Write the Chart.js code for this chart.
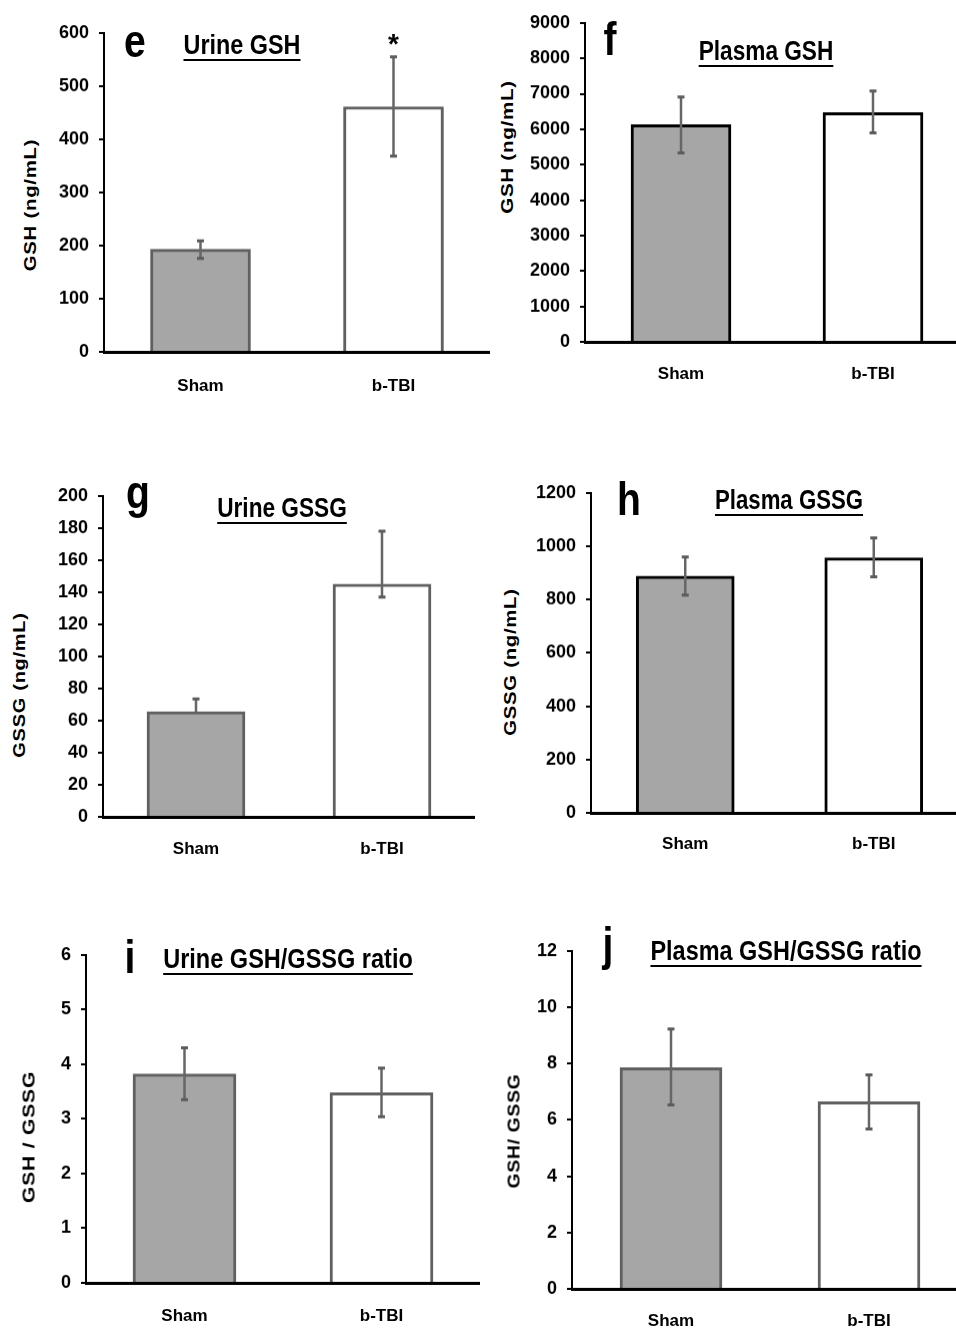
<!DOCTYPE html>
<html>
<head>
<meta charset="utf-8">
<script src="https://cdn.jsdelivr.net/npm/chart.js"></script>
<style>
body {
  margin: 0;
  width: 956px;
  height: 1334px;
  overflow: hidden;
  position: relative;
  background: #fff;
  font-family: 'Liberation Sans', Arial, sans-serif;
}
canvas { position: absolute; }
.txt {
  position: absolute;
  font-weight: bold;
  white-space: nowrap;
  line-height: 1;
  color: #000;
  transform-origin: center center;
}
.title {
  text-decoration: underline;
  text-decoration-thickness: 2px;
  text-underline-offset: 5px;
}
</style>
</head>
<body>
<script>
// groups on the x axis
const groups = ['Sham', 'b-TBI'];

// e: urine GSH (ng/mL)
const urineGsh = [193, 461];
const urineGshUp = [16, 94];
const urineGshDown = [17, 93];
const urineGshStar = [false, true];

// f: plasma GSH (ng/mL)
const plasmaGsh = [6130, 6470];
const plasmaGshUp = [780, 610];
const plasmaGshDown = [800, 570];

// g: urine GSSG (ng/mL)
const urineGssg = [65.5, 145];
const urineGssgUp = [8, 33];
const urineGssgDown = [0, 8];

// h: plasma GSSG (ng/mL)
const plasmaGssg = [888, 956];
const plasmaGssgUp = [72, 75];
const plasmaGssgDown = [71, 71];

// i: urine GSH/GSSG ratio
const urineRatio = [3.82, 3.48];
const urineRatioUp = [0.48, 0.45];
const urineRatioDown = [0.47, 0.44];

// j: plasma GSH/GSSG ratio
const plasmaRatio = [7.85, 6.64];
const plasmaRatioUp = [1.38, 0.96];
const plasmaRatioDown = [1.32, 0.96];

const FONT = "'Liberation Sans', Arial, sans-serif";
const YW = 62, PT = 12, XH = 50;

const panels = [
  { letter: 'e', title: 'Urine GSH', yTitle: 'GSH (ng/mL)', values: urineGsh, up: urineGshUp, down: urineGshDown, star: urineGshStar,
    max: 600, step: 100, border: '#606060', l: 104, t: 33, b: 352, r: 490, thick: 100, xPad: 24,
    letterPos: [135, 57], titlePos: [241.5, 55, 117], yTitlePos: [30, 205, 132] },
  { letter: 'f', title: 'Plasma GSH', yTitle: 'GSH (ng/mL)', values: plasmaGsh, up: plasmaGshUp, down: plasmaGshDown,
    max: 9000, step: 1000, border: '#000000', l: 585, t: 23, b: 342, r: 969, thick: 100, xPad: 22,
    letterPos: [610, 55], titlePos: [766, 61, 135], yTitlePos: [507, 147, 133] },
  { letter: 'g', title: 'Urine GSSG', yTitle: 'GSSG (ng/mL)', values: urineGssg, up: urineGssgUp, down: urineGssgDown,
    max: 200, step: 20, border: '#606060', l: 103, t: 496, b: 817, r: 475, thick: 98, xPad: 22,
    letterPos: [138, 508], titlePos: [282, 518, 130], yTitlePos: [19, 685, 145] },
  { letter: 'h', title: 'Plasma GSSG', yTitle: 'GSSG (ng/mL)', values: plasmaGssg, up: plasmaGssgUp, down: plasmaGssgDown,
    max: 1200, step: 200, border: '#000000', l: 591, t: 493, b: 813, r: 968, thick: 98, xPad: 21,
    letterPos: [629, 515], titlePos: [789, 510, 148], yTitlePos: [510, 662, 147] },
  { letter: 'i', title: 'Urine GSH/GSSG ratio', yTitle: 'GSH / GSSG', values: urineRatio, up: urineRatioUp, down: urineRatioDown,
    max: 6, step: 1, border: '#606060', l: 86, t: 955, b: 1283, r: 480, thick: 103, xPad: 23,
    letterPos: [130, 973], titlePos: [288, 969, 250], yTitlePos: [29, 1137, 132] },
  { letter: 'j', title: 'Plasma GSH/GSSG ratio', yTitle: 'GSH/ GSSG', values: plasmaRatio, up: plasmaRatioUp, down: plasmaRatioDown,
    max: 12, step: 2, border: '#606060', l: 572, t: 951, b: 1289, r: 968, thick: 102, xPad: 22,
    letterPos: [608, 960], titlePos: [786, 961, 271], yTitlePos: [514, 1131, 115] }
];

const errorBars = {
  id: 'errorBars',
  afterDatasetsDraw(chart, args, opts) {
    const ctx = chart.ctx;
    const yScale = chart.scales.y;
    const data = chart.data.datasets[0].data;
    ctx.save();
    ctx.fillStyle = '#000';
    chart.getDatasetMeta(0).data.forEach((bar, i) => {
      const top = yScale.getPixelForValue(data[i] + opts.up[i]);
      const bot = yScale.getPixelForValue(data[i] - opts.down[i]);
      ctx.strokeStyle = '#666666';
      ctx.lineWidth = 2.5;
      ctx.beginPath();
      ctx.moveTo(bar.x, top);
      ctx.lineTo(bar.x, bot);
      ctx.stroke();
      ctx.lineWidth = 3;
      ctx.strokeStyle = '#5c5c5c';
      ctx.beginPath();
      if (opts.up[i] > 0) { ctx.moveTo(bar.x - 3.5, top); ctx.lineTo(bar.x + 3.5, top); }
      if (opts.down[i] > 0) { ctx.moveTo(bar.x - 3.5, bot); ctx.lineTo(bar.x + 3.5, bot); }
      ctx.stroke();
      if (opts.star && opts.star[i]) {
        ctx.font = 'bold 28px ' + FONT;
        ctx.textAlign = 'center';
        ctx.textBaseline = 'alphabetic';
        ctx.fillText('*', bar.x, top - 4);
      }
    });
    ctx.restore();
  }
};

function chartConfig(p) {
  return {
    type: 'bar',
    data: {
      labels: groups,
      datasets: [{
        data: p.values,
        backgroundColor: ['#a6a6a6', '#ffffff'],
        borderColor: p.border,
        borderWidth: 3,
        barThickness: p.thick
      }]
    },
    options: {
      responsive: false,
      animation: false,
      devicePixelRatio: 1,
      layout: { padding: { top: PT, left: 0, right: 0, bottom: 0 } },
      plugins: {
        legend: { display: false },
        tooltip: { enabled: false },
        errorBars: { up: p.up, down: p.down, star: p.star }
      },
      scales: {
        x: {
          z: 1,
          grid: { display: false, drawTicks: false },
          border: { display: true, color: '#000', width: 3 },
          ticks: { color: '#000', font: { family: FONT, size: 17, weight: 'bold' }, padding: p.xPad, maxRotation: 0 },
          afterFit(scale) { scale.height = XH; }
        },
        y: {
          min: 0,
          max: p.max,
          grid: { drawOnChartArea: false, drawTicks: true, tickLength: 5, color: '#000', lineWidth: 2 },
          border: { display: true, color: '#000', width: 2 },
          ticks: { stepSize: p.step, color: '#000', font: { family: FONT, size: 18, weight: 'bold' }, padding: 10,
                   callback: v => String(v) },
          afterFit(scale) { scale.width = YW; }
        }
      }
    },
    plugins: [errorBars]
  };
}

function addText(text, cls, size, fit) {
  const el = document.createElement('span');
  el.className = 'txt ' + cls;
  el.textContent = text;
  el.style.fontSize = size + 'px';
  document.body.appendChild(el);
  fit(el);
  return el;
}

panels.forEach(p => {
  const canvas = document.createElement('canvas');
  const w = p.r - p.l + YW;
  const h = PT + (p.b - p.t) + XH;
  canvas.width = w;
  canvas.height = h;
  canvas.style.left = (p.l - YW) + 'px';
  canvas.style.top = (p.t - PT) + 'px';
  document.body.appendChild(canvas);

  let chart = new Chart(canvas.getContext('2d'), chartConfig(p));

  // Chart.js adds label room above the plot; grow the canvas so the plot keeps its size
  const extra = chart.chartArea.top - PT;
  if (extra !== 0) {
    chart.destroy();
    canvas.width = w;
    canvas.height = h + extra;
    canvas.style.width = w + 'px';
    canvas.style.height = (h + extra) + 'px';
    chart = new Chart(canvas.getContext('2d'), chartConfig(p));
    canvas.style.top = (p.t - chart.chartArea.top) + 'px';
  }

  // panel letter
  addText(p.letter, 'letter', 46, el => {
    el.style.left = p.letterPos[0] + 'px';
    el.style.top = (p.letterPos[1] - 0.85 * 46) + 'px';
    el.style.transform = 'translateX(-50%) scaleX(0.85)';
  });

  // underlined panel title
  addText(p.title, 'title', 27, el => {
    const s = p.titlePos[2] / el.offsetWidth;
    el.style.left = p.titlePos[0] + 'px';
    el.style.top = (p.titlePos[1] - 0.85 * 27) + 'px';
    el.style.transform = 'translateX(-50%) scaleX(' + s + ')';
  });

  // rotated y-axis title
  addText(p.yTitle, 'ytitle', 17, el => {
    el.style.letterSpacing = '0.6px';
    const s = p.yTitlePos[2] / el.offsetWidth;
    el.style.left = p.yTitlePos[0] + 'px';
    el.style.top = p.yTitlePos[1] + 'px';
    el.style.transform = 'translate(-50%, -50%) rotate(-90deg) scaleX(' + s + ')';
  });
});
</script>
</body>
</html>
